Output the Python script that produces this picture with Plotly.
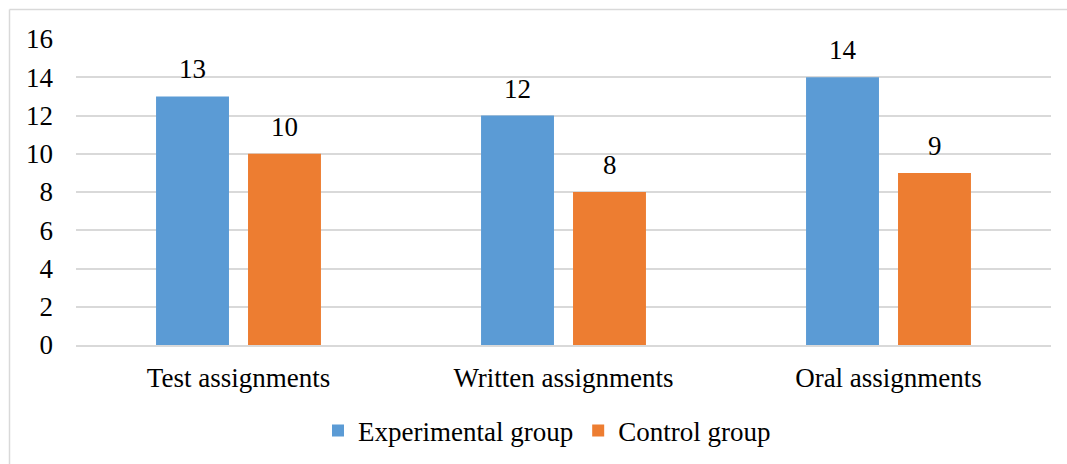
import plotly.graph_objects as go

categories = ["Test assignments", "Written assignments", "Oral assignments"]
experimental = [13, 12, 14]
control = [10, 8, 9]
y_ticks = [0, 2, 4, 6, 8, 10, 12, 14, 16]

BLUE = "#5B9BD5"
ORANGE = "#ED7D31"
FONT = "Times New Roman, Liberation Serif, serif"
FS = 27

W, H = 1067, 464
L, R, T, B = 76, 16, 39, 119
plot_w = W - L - R
plot_h = H - T - B


def px_x(px):
    return (px - L) / plot_w


def px_y(py):
    return (H - B - py) / plot_h


fig = go.Figure()
fig.add_trace(go.Bar(name="Experimental group", x=categories, y=experimental,
                     marker=dict(color=BLUE, line=dict(width=0))))
fig.add_trace(go.Bar(name="Control group", x=categories, y=control,
                     marker=dict(color=ORANGE, line=dict(width=0))))

# value labels above each bar
shift = 46
for vals, dx in ((experimental, -shift), (control, shift)):
    for c, v in zip(categories, vals):
        fig.add_annotation(x=c, y=v, text=str(v), showarrow=False,
                           xshift=dx, yshift=10, yanchor="bottom",
                           font=dict(family=FONT, size=FS, color="black"))

# chart frame: top and left edges
frame = dict(color="#d9d9d9", width=1.5)
fig.add_shape(type="line", xref="paper", yref="paper",
              x0=px_x(9.5), x1=px_x(W), y0=px_y(9.5), y1=px_y(9.5),
              line=frame, layer="below")
fig.add_shape(type="line", xref="paper", yref="paper",
              x0=px_x(9.5), x1=px_x(9.5), y0=px_y(9.5), y1=px_y(H),
              line=frame, layer="below")

fig.update_layout(
    width=W, height=H,
    margin=dict(l=L, r=R, t=T, b=B, pad=0, autoexpand=False),
    paper_bgcolor="white", plot_bgcolor="white",
    barmode="group", bargap=0.434, bargroupgap=0.207,
    font=dict(family=FONT, size=FS, color="black"),
    showlegend=True,
    legend=dict(orientation="h", x=px_x(547), xanchor="center",
                y=px_y(431), yanchor="middle",
                font=dict(family=FONT, size=FS, color="black"),
                itemsizing="constant", itemwidth=30, traceorder="normal"),
    xaxis=dict(showgrid=False, showline=True, linecolor="#d9d9d9", linewidth=1.5,
               ticks="", ticklabelstandoff=8, automargin=False,
               tickfont=dict(family=FONT, size=FS)),
    yaxis=dict(range=[0, 16], tickvals=y_ticks, showgrid=True, gridcolor="#d9d9d9",
               gridwidth=1.5, zeroline=False, showline=False, ticks="",
               ticklabelstandoff=22, automargin=False,
               tickfont=dict(family=FONT, size=FS)),
)

fig.write_html("out.html")
